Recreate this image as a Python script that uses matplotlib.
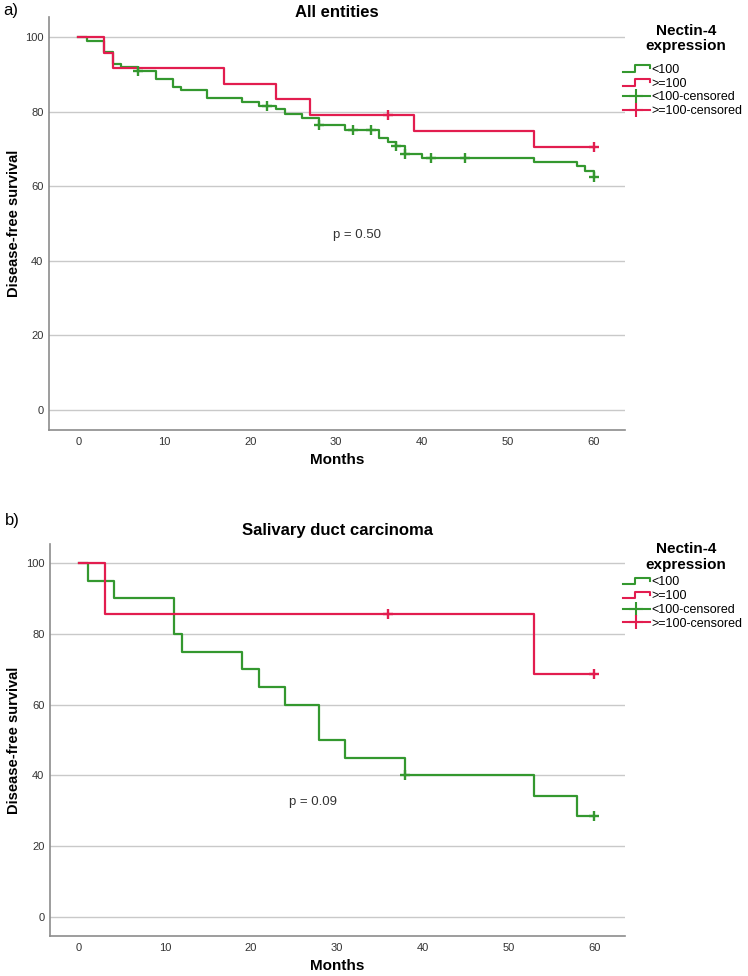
import matplotlib
matplotlib.use("Agg")
import matplotlib.pyplot as plt
from matplotlib.lines import Line2D
from matplotlib.legend_handler import HandlerBase

plt.rcParams['font.family'] = ['Liberation Sans', 'DejaVu Sans']

GREEN = '#34982f'
RED = '#e21d4f'
GRID = '#c9c9c9'
SPINE = '#8c8c8c'
TICKC = '#333333'

W, H = 748, 976

# --- a) All entities ---
a_lo_t = [0, 1, 3, 4, 5, 7, 9, 11, 12, 15, 19, 21, 23, 24, 26, 28, 31, 35, 36, 37, 38, 40, 53, 58, 59, 60]
a_lo_s = [100, 99.0, 95.9, 92.9, 92.0, 90.9, 88.8, 86.6, 85.8, 83.6, 82.6, 81.6, 80.6, 79.5, 78.4, 76.3,
          75.2, 73.0, 71.9, 70.8, 68.7, 67.6, 66.5, 65.3, 64.1, 62.6]
a_lo_ct = [7, 22, 28, 32, 34, 37, 38, 41, 45, 60]
a_lo_cs = [90.9, 81.6, 76.3, 75.2, 75.2, 70.8, 68.7, 67.6, 67.6, 62.6]

a_hi_t = [0, 3, 4, 17, 23, 27, 39, 53, 60]
a_hi_s = [100, 95.8, 91.7, 87.5, 83.3, 79.2, 74.8, 70.4, 70.4]
a_hi_ct = [36, 60]
a_hi_cs = [79.2, 70.4]

# --- b) Salivary duct carcinoma ---
b_lo_t = [0, 1, 4, 11, 12, 19, 21, 24, 28, 31, 38, 53, 58, 60]
b_lo_s = [100, 95, 90, 80, 75, 70, 65, 60, 50, 45, 40, 34.3, 28.6, 28.6]
b_lo_ct = [38, 60]
b_lo_cs = [40, 28.6]

b_hi_t = [0, 3, 53, 60]
b_hi_s = [100, 85.7, 68.6, 68.6]
b_hi_ct = [36, 60]
b_hi_cs = [85.7, 68.6]

yticks = [0, 20, 40, 60, 80, 100]
xticks = [0, 10, 20, 30, 40, 50, 60]
labels = ['<100', '>=100', '<100-censored', '>=100-censored']


class HandlerStep(HandlerBase):
    def create_artists(self, legend, orig, xd, yd, w, h, fs, trans):
        c = orig.get_color()
        y0 = yd + 0.1 * h
        y1 = yd + 0.85 * h
        xs = [xd, xd + 0.45 * w, xd + 0.45 * w, xd + w, xd + w]
        ys = [y0, y0, y1, y1, y1 - 0.35 * h]
        return [Line2D(xs, ys, color=c, lw=1.5, transform=trans)]


def make_axes(fig, left, top, right, bottom):
    return fig.add_axes([left / W, 1 - bottom / H, (right - left) / W, (bottom - top) / H])


def panel(ax, rect, lo, hi, title, title_y, ptxt, ppos, leg_y, legtitle_y):
    left, top, right, bottom = rect
    aw, ah = right - left, bottom - top

    def ax_xy(px, py):
        return (px - left) / aw, (bottom - py) / ah

    ax.step(lo[0], lo[1], where='post', color=GREEN, lw=1.6, zorder=3)
    ax.step(hi[0], hi[1], where='post', color=RED, lw=1.6, zorder=4)
    ax.plot(lo[2], lo[3], '+', color=GREEN, ms=7, mew=1.7, zorder=5)
    ax.plot(hi[2], hi[3], '+', color=RED, ms=7, mew=1.7, zorder=5)

    ax.set_xlim(-3.4, 63.6)
    ax.set_ylim(-5.4, 105.4)
    ax.set_xticks(xticks)
    ax.set_yticks(yticks)
    ax.tick_params(length=0, labelsize=8, labelcolor=TICKC)
    ax.tick_params(axis='y', pad=4)
    ax.tick_params(axis='x', pad=5)
    for v in yticks:
        ax.axhline(v, color=GRID, lw=1, zorder=1)
    for s in ['top', 'right']:
        ax.spines[s].set_visible(False)
    for s in ['left', 'bottom']:
        ax.spines[s].set_color(SPINE)
        ax.spines[s].set_linewidth(1.2)
    ax.set_xlabel('Months', fontsize=11, fontweight='bold', labelpad=4)
    ax.set_ylabel('Disease-free survival', fontsize=10.5, fontweight='bold')
    ax.yaxis.set_label_coords(ax_xy(21, 0)[0], 0.5)

    tx, ty = ax_xy((left + right) / 2, title_y)
    ax.text(tx, ty, title, transform=ax.transAxes, fontsize=12, fontweight='bold',
            ha='center', va='center')
    ax.text(ppos[0], ppos[1], ptxt, fontsize=9.5, color=TICKC, ha='center', va='center')

    handles = [Line2D([], [], color=GREEN), Line2D([], [], color=RED),
               Line2D([], [], color=GREEN, marker='+', ms=10, mew=1.5, lw=1.5),
               Line2D([], [], color=RED, marker='+', ms=10, mew=1.5, lw=1.5)]
    ax.legend(handles, labels, loc='center left', bbox_to_anchor=ax_xy(623, leg_y),
              frameon=False, fontsize=9, handlelength=2.15, handletextpad=0.15,
              labelspacing=0.15, borderaxespad=0, borderpad=0,
              handler_map={handles[0]: HandlerStep(), handles[1]: HandlerStep()})
    lx, ly = ax_xy(686, legtitle_y)
    ax.text(lx, ly, 'Nectin-4\nexpression', transform=ax.transAxes, fontsize=11,
            fontweight='bold', ha='center', va='center', linespacing=1.1)


fig = plt.figure(figsize=(W / 100, H / 100), dpi=100)
rect1 = (49, 17, 625, 430)
rect2 = (50, 544, 625, 936)
ax1 = make_axes(fig, *rect1)
ax2 = make_axes(fig, *rect2)

panel(ax1, rect1, (a_lo_t, a_lo_s, a_lo_ct, a_lo_cs), (a_hi_t, a_hi_s, a_hi_ct, a_hi_cs),
      'All entities', 12, 'p = 0.50', (32.4, 46.8), 90.5, 38.5)
panel(ax2, rect2, (b_lo_t, b_lo_s, b_lo_ct, b_lo_cs), (b_hi_t, b_hi_s, b_hi_ct, b_hi_cs),
      'Salivary duct carcinoma', 531, 'p = 0.09', (27.2, 32.6), 603, 557)

fig.text(3 / W, 1 - 11 / H, 'a)', fontsize=12, va='center', ha='left')
fig.text(5 / W, 1 - 520 / H, 'b)', fontsize=12, va='center', ha='left')

fig.savefig('out.png', dpi=100, facecolor='white')
